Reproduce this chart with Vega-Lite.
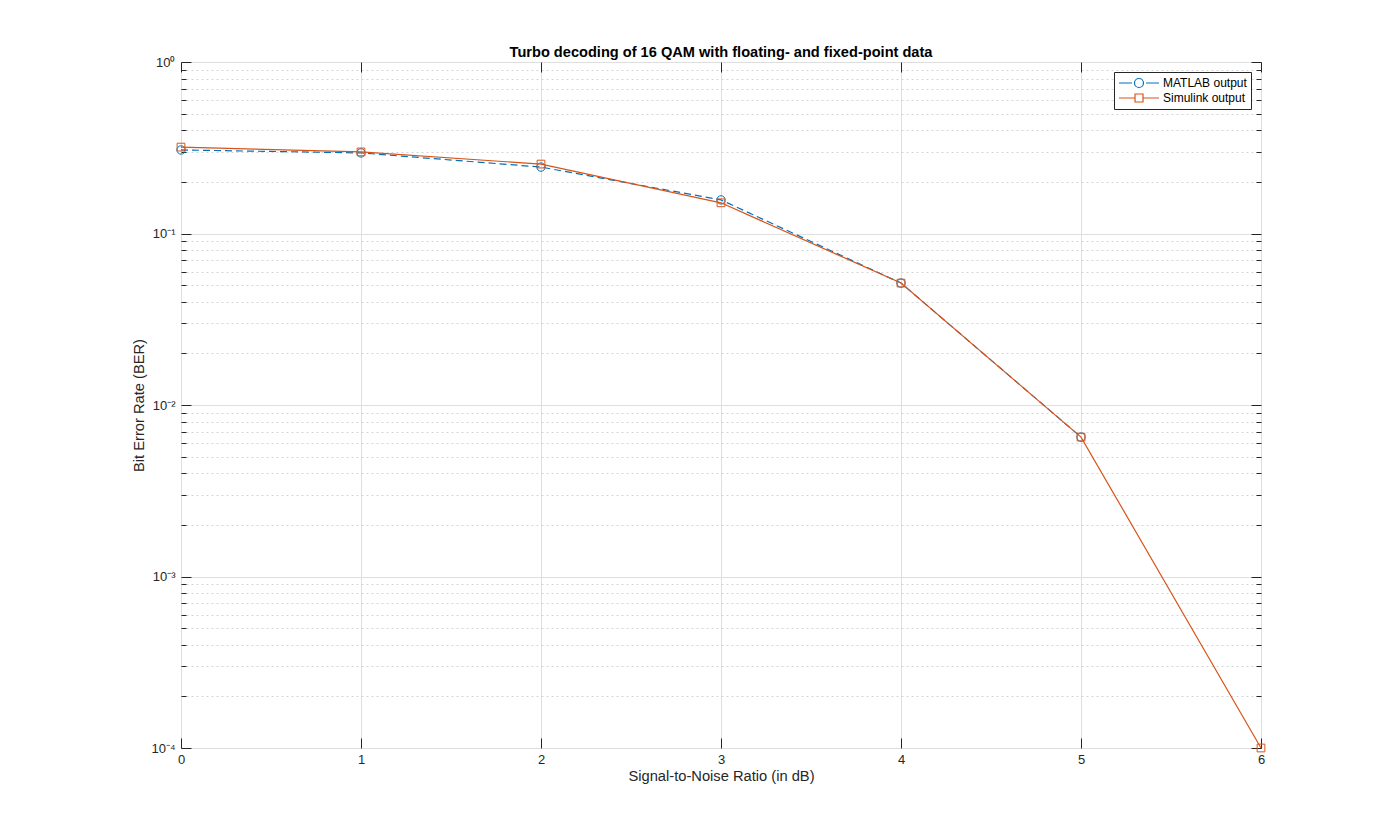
{
  "$schema": "https://vega.github.io/schema/vega-lite/v6.json",
  "width": 1080,
  "height": 686,
  "autosize": {"type": "none"},
  "padding": {"left": 181, "top": 62, "right": 133, "bottom": 92},
  "background": "white",
  "config": {
    "view": {"stroke": "#262626", "strokeWidth": 1},
    "font": "Liberation Sans",
    "axis": {"domain": false, "labelFont": "Liberation Sans", "titleFont": "Liberation Sans", "labelColor": "#262626", "titleColor": "#262626", "tickColor": "#262626", "titleFontWeight": "normal"},
    "legend": {"orient": "top-right", "offset": 10, "title": null, "strokeColor": "#262626", "fillColor": "white", "padding": 4, "rowPadding": 1,
      "labelFont": "Liberation Sans", "labelFontSize": 12, "labelColor": "#000000", "labelOffset": 31, "symbolSize": 144, "symbolStrokeWidth": 1.2}
  },
  "title": {"text": "Turbo decoding of 16 QAM with floating- and fixed-point data", "font": "Liberation Sans", "fontSize": 14.6, "fontWeight": "bold", "color": "#000000", "offset": -4},
  "datasets": {
    "ber": [
      {"series": "MATLAB output", "snr": 0, "ber": 0.307},
      {"series": "MATLAB output", "snr": 1, "ber": 0.295},
      {"series": "MATLAB output", "snr": 2, "ber": 0.244},
      {"series": "MATLAB output", "snr": 3, "ber": 0.157},
      {"series": "MATLAB output", "snr": 4, "ber": 0.0514},
      {"series": "MATLAB output", "snr": 5, "ber": 0.0065},
      {"series": "Simulink output", "snr": 0, "ber": 0.319},
      {"series": "Simulink output", "snr": 1, "ber": 0.299},
      {"series": "Simulink output", "snr": 2, "ber": 0.254},
      {"series": "Simulink output", "snr": 3, "ber": 0.151},
      {"series": "Simulink output", "snr": 4, "ber": 0.0514},
      {"series": "Simulink output", "snr": 5, "ber": 0.0065},
      {"series": "Simulink output", "snr": 6, "ber": 0.0001}
    ],
    "none": []
  },
  "resolve": {"axis": {"x": "independent", "y": "independent"}},
  "layer": [
    {
      "data": {"name": "ber"},
      "transform": [{"filter": "datum.series === 'MATLAB output'"}],
      "mark": {"type": "line", "strokeWidth": 1.2, "strokeDash": [7, 4]},
      "encoding": {
        "x": {"field": "snr", "type": "quantitative", "scale": {"domain": [0, 6], "nice": false, "zero": false},
          "axis": {"orient": "bottom", "values": [0, 1, 2, 3, 4, 5, 6], "format": "d", "ticks": false, "grid": true, "gridColor": "#dedede", "gridWidth": 1, "labelFontSize": 13, "labelPadding": 5, "labelFlush": false, "title": "Signal-to-Noise Ratio (in dB)", "titleFontSize": 14.7, "titlePadding": 2}},
        "y": {"field": "ber", "type": "quantitative", "scale": {"type": "log", "domain": [0.0001, 1], "nice": false},
          "axis": {"orient": "left", "values": [0.0001, 0.001, 0.01, 0.1, 1], "ticks": false, "grid": true, "gridColor": "#dedede", "gridWidth": 1, "labelFontSize": 13, "labelPadding": 6, "labelFlush": false, "labelBaseline": "middle",
            "labelExpr": "datum.value >= 1 ? '10⁰' : datum.value >= 0.1 ? '10⁻¹' : datum.value >= 0.01 ? '10⁻²' : datum.value >= 0.001 ? '10⁻³' : '10⁻⁴'",
            "title": "Bit Error Rate (BER)", "titleFontSize": 14.7, "titlePadding": 4}},
        "color": {"field": "series", "type": "nominal", "scale": {"domain": ["MATLAB output", "Simulink output"], "range": ["#0072BD", "#D95319"]},
          "legend": {"encode": {"symbols": {"update": {
              "shape": {"signal": "datum.value === 'MATLAB output' ? 'M-1,0H1.17M3.08,0A0.75,0.75 0 1,1 1.58,0A0.75,0.75 0 1,1 3.08,0M3.5,0H5.67' : 'M-1,0H1.67M3,0H5.67M1.67,-0.67H3V0.67H1.67Z'"},
              "fill": {"value": "transparent"},
              "strokeDash": {"value": []},
              "opacity": {"value": 1}
            }}}}}
      }
    },
    {
      "data": {"name": "ber"},
      "transform": [{"filter": "datum.series === 'MATLAB output'"}],
      "mark": {"type": "point", "shape": "circle", "filled": false, "size": 70, "strokeWidth": 1, "opacity": 1},
      "encoding": {
        "x": {"field": "snr", "type": "quantitative",
          "axis": {"orient": "bottom", "values": [0, 1, 2, 3, 4, 5, 6], "tickSize": -10, "labels": false, "grid": false, "title": null}},
        "y": {"field": "ber", "type": "quantitative",
          "axis": {"orient": "left", "values": [0.0002, 0.0003, 0.0004, 0.0005, 0.0006, 0.0007, 0.0008, 0.0009, 0.002, 0.003, 0.004, 0.005, 0.006, 0.007, 0.008, 0.009, 0.02, 0.03, 0.04, 0.05, 0.06, 0.07, 0.08, 0.09, 0.2, 0.3, 0.4, 0.5, 0.6, 0.7, 0.8, 0.9], "tickSize": -5, "labels": false, "grid": true, "gridColor": "#d4d4d4", "gridDash": [2, 3], "gridWidth": 1, "title": null}},
        "color": {"field": "series", "type": "nominal"}
      }
    },
    {
      "data": {"name": "ber"},
      "transform": [{"filter": "datum.series === 'Simulink output'"}],
      "mark": {"type": "line", "strokeWidth": 1.2},
      "encoding": {
        "x": {"field": "snr", "type": "quantitative",
          "axis": {"orient": "top", "values": [0, 1, 2, 3, 4, 5, 6], "tickSize": -10, "labels": false, "grid": false, "title": null}},
        "y": {"field": "ber", "type": "quantitative",
          "axis": {"orient": "left", "values": [0.0001, 0.001, 0.01, 0.1, 1], "tickSize": -10, "labels": false, "grid": false, "title": null}},
        "color": {"field": "series", "type": "nominal"}
      }
    },
    {
      "data": {"name": "ber"},
      "transform": [{"filter": "datum.series === 'Simulink output'"}],
      "mark": {"type": "point", "shape": "square", "filled": false, "size": 60, "strokeWidth": 1, "opacity": 1},
      "encoding": {
        "x": {"field": "snr", "type": "quantitative", "axis": null},
        "y": {"field": "ber", "type": "quantitative",
          "axis": {"orient": "right", "values": [0.0001, 0.001, 0.01, 0.1, 1], "tickSize": -10, "labels": false, "grid": false, "title": null}},
        "color": {"field": "series", "type": "nominal"}
      }
    },
    {
      "data": {"name": "none"},
      "mark": {"type": "point", "opacity": 0},
      "encoding": {
        "x": {"field": "snr", "type": "quantitative", "axis": null},
        "y": {"field": "ber", "type": "quantitative",
          "axis": {"orient": "right", "values": [0.0002, 0.0003, 0.0004, 0.0005, 0.0006, 0.0007, 0.0008, 0.0009, 0.002, 0.003, 0.004, 0.005, 0.006, 0.007, 0.008, 0.009, 0.02, 0.03, 0.04, 0.05, 0.06, 0.07, 0.08, 0.09, 0.2, 0.3, 0.4, 0.5, 0.6, 0.7, 0.8, 0.9], "tickSize": -5, "labels": false, "grid": false, "title": null}}
      }
    }
  ]
}
